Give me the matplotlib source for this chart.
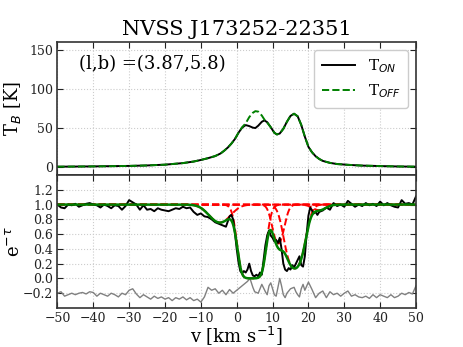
import numpy as np
import matplotlib
matplotlib.use("Agg")
import matplotlib.pyplot as plt

plt.rcParams['font.family'] = ['DejaVu Serif']
plt.rcParams['mathtext.fontset'] = 'dejavusans'

title = "NVSS J173252-22351"
coord_label = "(l,b) =(3.87,5.8)"

# ---- Emission spectra (T_B, K) ----
em_v = [-50, -40, -30, -25, -20, -15, -12, -10, -8, -6, -4.5, -3.5, -2.5, -1.5, -0.5,
        0.5, 1.5, 2.5, 3.5, 4.5, 5.2, 6, 7, 7.7, 8.5, 9.5, 10.5, 11.2, 12, 13, 14, 15,
        16, 17, 18, 19, 20, 21, 22, 23, 24, 26, 28, 31, 35, 40, 45, 50]
t_on = [0.6, 1.0, 1.6, 2.2, 3.2, 5.2, 7.2, 9.2, 11.5, 14.2, 17.5, 21, 25, 30, 36,
        44, 50.5, 53.8, 52.5, 50.5, 50, 53, 58, 59.8, 57.5, 51, 44, 41.8, 43, 49, 58, 65.5,
        68.3, 65, 54, 39, 26, 19, 14, 10.5, 8, 5.5, 4, 3, 2, 1.4, 0.9, 0.6]
t_off = [0.6, 1.0, 1.6, 2.2, 3.2, 5.2, 7.2, 9.2, 11.5, 14.2, 17.5, 21, 25, 30, 36,
         44, 51, 56, 64, 69.5, 71.6, 71, 66, 61, 57, 51, 44, 41.8, 43, 49, 58, 65.5,
         68.3, 65, 54, 39, 26, 19, 14, 10.5, 8, 5.5, 4, 3, 2, 1.4, 0.9, 0.6]

# ---- Absorption spectrum e^-tau ----
ab_v = list(range(-50, -1)) + [-1.5, -1, -0.5, 0, 0.5, 1, 1.5, 2, 2.5, 3, 3.5, 4, 4.5, 5,
        5.5, 6, 6.5, 7, 7.5, 8, 8.5, 9, 9.5, 10, 10.5, 11, 11.5, 12, 12.5, 13, 13.5, 14,
        14.5, 15, 15.5, 16, 16.5, 17, 17.5, 18, 18.5, 19, 19.5, 20, 20.5, 21, 21.5, 22,
        22.5, 23, 24, 25, 26] + list(range(27, 51))
ab_val = [1.00, 0.96, 0.95, 1.00, 0.99, 1.01, 0.97, 0.99, 1.01, 1.02, 1.00, 0.99, 0.96,
          1.00, 0.98, 0.95, 0.99, 0.98, 0.93, 0.98, 1.06, 1.03, 1.00, 0.93, 0.99, 0.93,
          0.94, 0.91, 0.95, 0.93, 0.92, 0.91, 0.93, 0.95, 0.94, 0.97, 0.95, 0.96, 0.90,
          0.86, 0.88, 0.84, 0.83, 0.80, 0.76, 0.74, 0.72, 0.70, 0.84,
          0.86, 0.80, 0.62, 0.40, 0.22, 0.10, 0.07, 0.10, 0.08, 0.12, 0.20, 0.10, 0.04, 0.03,
          0.05, 0.03, 0.08, 0.05, 0.25, 0.45, 0.58, 0.65, 0.58, 0.55, 0.50, 0.52, 0.48, 0.55,
          0.40, 0.20, 0.12, 0.10, 0.14, 0.12, 0.18, 0.15, 0.20, 0.25, 0.30, 0.18, 0.16, 0.30,
          0.60, 0.85, 0.96, 0.92, 0.88, 0.90, 0.86, 0.90, 0.92, 0.96, 0.93,
          1.02, 0.98, 1.00, 0.97, 1.05, 1.01, 0.97, 1.00, 0.98, 1.02, 0.99, 1.01, 0.98, 1.04,
          0.99, 1.02, 0.99, 0.97, 0.96, 1.06, 1.01, 1.02, 1.00, 1.11]

# ---- Residuals (offset, grey) ----
res_v = list(range(-50, 3)) + [3, 3.7, 4.5, 5, 6, 7, 8, 8.5, 9, 9.5, 10, 10.5, 11, 11.5,
        12, 12.5, 13, 13.5, 14, 15, 16, 16.5, 17, 17.5, 18, 18.5, 19] + list(range(20, 51))
res_val = [-0.20, -0.18, -0.24, -0.22, -0.20, -0.22, -0.20, -0.19, -0.21, -0.18, -0.19,
           -0.24, -0.20, -0.22, -0.24, -0.20, -0.22, -0.25, -0.20, -0.22, -0.16, -0.14,
           -0.21, -0.26, -0.22, -0.25, -0.28, -0.24, -0.27, -0.25, -0.28, -0.26, -0.30,
           -0.26, -0.28, -0.25, -0.29, -0.26, -0.30, -0.28, -0.32, -0.25, -0.12, -0.16,
           -0.14, -0.20, -0.16, -0.22, -0.15, -0.20, -0.16, -0.12, -0.08,
           -0.04, 0.0, -0.12, -0.18, -0.20, -0.08, -0.18, -0.22, -0.10, -0.06, -0.14, -0.22,
           -0.24, -0.12, 0.0, -0.10, -0.22, -0.26, -0.20, -0.14, -0.12, -0.18, -0.22, -0.25,
           -0.14, -0.08, -0.16,
           -0.05, -0.15, -0.26, -0.20, -0.17, -0.26, -0.18, -0.22, -0.20, -0.24, -0.20,
           -0.17, -0.24, -0.22, -0.25, -0.26, -0.24, -0.27, -0.22, -0.26, -0.22, -0.24,
           -0.26, -0.22, -0.26, -0.24, -0.20, -0.22, -0.19, -0.21, -0.10]

# ---- Gaussian fit components (optical depth) ----
comp_center = [-4.7, 4.2, 11.6, 16.2, 23.0]
comp_tau = [0.28, 7.0, 0.75, 2.0, 0.08]
comp_sigma = [2.8, 1.95, 1.4, 2.0, 1.8]

fig = plt.figure(figsize=(4.63, 3.47), dpi=100)
ax1 = fig.add_axes([0.124, 0.4957, 0.7745, 0.3833])
ax2 = fig.add_axes([0.124, 0.1124, 0.7745, 0.3833], sharex=ax1)

spine_col = '#333333'
for ax in (ax1, ax2):
    ax.grid(True, linestyle=':', color='#cccccc', linewidth=0.8)
    ax.tick_params(direction='in', colors='#222222', labelsize=9, length=4,
                   top=True, right=True, pad=3)
    for s in ax.spines.values():
        s.set_color(spine_col)
        s.set_linewidth(1.2)

ax1.plot(em_v, t_on, color='k', lw=1.4, label='T$_{ON}$')
ax1.plot(em_v, t_off, color='g', lw=1.4, ls='--', label='T$_{OFF}$')
ax1.set_ylim(-10, 160)
ax1.set_yticks([0, 50, 100, 150])
ax1.set_ylabel('T$_B$ [K]', fontsize=13)
ax1.yaxis.set_label_coords(-0.095, 0.5)
ax1.set_title(title, fontsize=15, pad=5)
ax1.text(0.06, 0.80, coord_label, transform=ax1.transAxes, fontsize=13)
leg = ax1.legend(loc='upper right', fontsize=11, handlelength=2.2, framealpha=1,
                 edgecolor='#cccccc', borderpad=0.5)
plt.setp(ax1.get_xticklabels(), visible=False)

vfit = np.linspace(-50, 50, 1001)
taus = []
for c, t, s in zip(comp_center, comp_tau, comp_sigma):
    tau_i = t * np.exp(-(vfit - c) ** 2 / (2 * s ** 2))
    taus.append(tau_i)
    ax2.plot(vfit, np.exp(-tau_i), color='r', ls='--', lw=1.4)
ax2.plot(ab_v, ab_val, color='k', lw=1.4)
ax2.plot(res_v, res_val, color='gray', lw=1.0)
ax2.plot(vfit, np.exp(-np.sum(taus, axis=0)), color='g', lw=1.8)
ax2.set_ylim(-0.4, 1.4)
ax2.set_yticks([-0.2, 0.0, 0.2, 0.4, 0.6, 0.8, 1.0, 1.2])
ax2.set_xlim(-50, 50)
ax2.set_xticks(range(-50, 51, 10))
ax2.set_ylabel(r'e$^{-\tau}$', fontsize=13)
ax2.yaxis.set_label_coords(-0.095, 0.5)
ax2.set_xlabel('v [km s$^{-1}$]', fontsize=13)
ax2.xaxis.set_label_coords(0.5, -0.125)

fig.savefig('out.png', dpi=100)
